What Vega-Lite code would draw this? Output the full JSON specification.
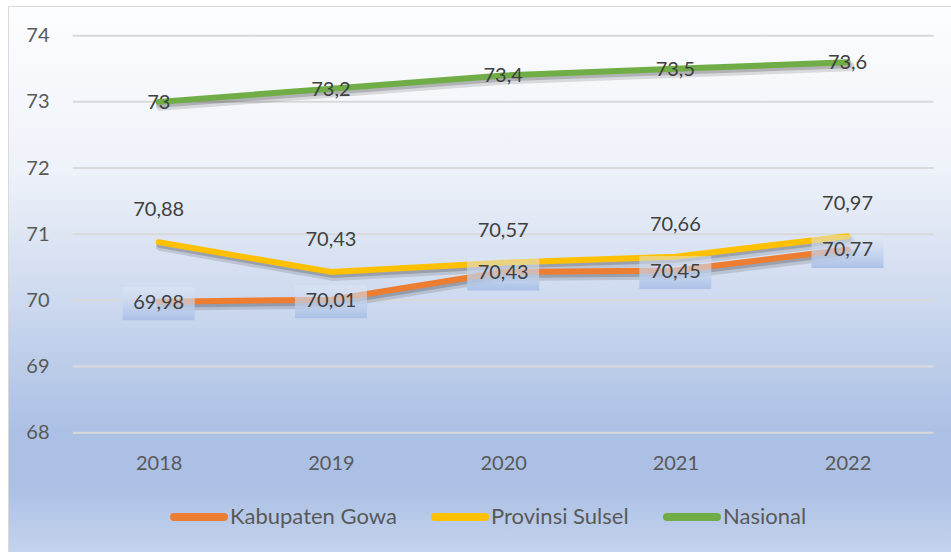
{
  "$schema": "https://vega.github.io/schema/vega-lite/v6.json",
  "width": 943,
  "height": 546,
  "autosize": {"type": "none"},
  "padding": {"left": 8, "top": 6, "right": 0, "bottom": 0},
  "background": "white",
  "view": {
    "fill": {
      "gradient": "linear", "x1": 0, "y1": 0, "x2": 0, "y2": 1,
      "stops": [
        {"offset": 0, "color": "#fcfdfe"},
        {"offset": 0.3, "color": "#eef2f9"},
        {"offset": 0.78, "color": "#abc0e4"},
        {"offset": 0.88, "color": "#abc0e4"},
        {"offset": 1, "color": "#c5d4ed"}
      ]
    },
    "stroke": "#d9d9d9",
    "strokeWidth": 1
  },
  "config": {
    "locale": {"number": {"decimal": ",", "thousands": ".", "grouping": [3], "currency": ["", ""]}},
    "axis": {"domain": false, "ticks": false, "grid": false, "labelFont": "Lato", "labelFontSize": 20, "labelColor": "#595959"},
    "axisX": {"offset": -89, "labelPadding": 0, "labelBaseline": "middle", "labelAngle": 0},
    "axisY": {"offset": -41, "labelPadding": 0},
    "legend": {
      "orient": "none", "legendX": 162, "legendY": 482, "direction": "horizontal",
      "symbolType": "stroke", "symbolSize": 2500, "symbolStrokeWidth": 8,
      "labelFont": "Lato", "labelFontSize": 22, "labelColor": "#595959", "labelLimit": 400,
      "columnPadding": 22, "labelOffset": 2, "padding": 0, "title": null
    }
  },
  "datasets": {
    "main": [
      {"year": "2018", "series": "Kabupaten Gowa", "value": 69.98},
      {"year": "2019", "series": "Kabupaten Gowa", "value": 70.01},
      {"year": "2020", "series": "Kabupaten Gowa", "value": 70.43},
      {"year": "2021", "series": "Kabupaten Gowa", "value": 70.45},
      {"year": "2022", "series": "Kabupaten Gowa", "value": 70.77},
      {"year": "2018", "series": "Provinsi Sulsel", "value": 70.88},
      {"year": "2019", "series": "Provinsi Sulsel", "value": 70.43},
      {"year": "2020", "series": "Provinsi Sulsel", "value": 70.57},
      {"year": "2021", "series": "Provinsi Sulsel", "value": 70.66},
      {"year": "2022", "series": "Provinsi Sulsel", "value": 70.97},
      {"year": "2018", "series": "Nasional", "value": 73},
      {"year": "2019", "series": "Nasional", "value": 73.2},
      {"year": "2020", "series": "Nasional", "value": 73.4},
      {"year": "2021", "series": "Nasional", "value": 73.5},
      {"year": "2022", "series": "Nasional", "value": 73.6}
    ],
    "grid": [{"v": 68}, {"v": 69}, {"v": 70}, {"v": 71}, {"v": 72}, {"v": 73}, {"v": 74}]
  },
  "layer": [
    {
      "data": {"name": "grid"},
      "mark": {"type": "rule", "stroke": "#d9d9d9", "strokeWidth": 2, "xOffset": -86, "x2Offset": 86},
      "encoding": {
        "x": {"datum": "2018", "type": "ordinal", "scale": {"type": "point", "domain": ["2018", "2019", "2020", "2021", "2022"], "padding": 0.738, "align": 0.593}, "axis": {"title": null}},
        "x2": {"datum": "2022"},
        "y": {"field": "v", "type": "quantitative", "scale": {"domain": [66.197, 74.4489], "nice": false, "zero": false}, "axis": {"title": null, "format": "d", "values": [68, 69, 70, 71, 72, 73, 74]}}
      }
    },
    {
      "data": {"name": "main"},
      "mark": {"type": "line", "color": "#000000", "opacity": 0.12, "strokeWidth": 10, "xOffset": 2, "yOffset": 4, "strokeCap": "round", "strokeJoin": "round"},
      "encoding": {
        "x": {"field": "year", "type": "ordinal"},
        "y": {"field": "value", "type": "quantitative"},
        "detail": {"field": "series"}
      }
    },
    {
      "data": {"name": "main"},
      "mark": {"type": "line", "color": "#000000", "opacity": 0.18, "strokeWidth": 6, "xOffset": 1, "yOffset": 3, "strokeCap": "round", "strokeJoin": "round"},
      "encoding": {
        "x": {"field": "year", "type": "ordinal"},
        "y": {"field": "value", "type": "quantitative"},
        "detail": {"field": "series"}
      }
    },
    {
      "data": {"name": "main"},
      "mark": {"type": "line", "strokeWidth": 6, "strokeCap": "round", "strokeJoin": "round"},
      "encoding": {
        "x": {"field": "year", "type": "ordinal"},
        "y": {"field": "value", "type": "quantitative"},
        "color": {
          "field": "series", "type": "nominal",
          "scale": {"domain": ["Kabupaten Gowa", "Provinsi Sulsel", "Nasional"], "range": ["#ED7D31", "#FFC000", "#70AD47"]},
          "legend": {"encode": {"symbols": {"update": {"strokeCap": {"value": "round"}}}}}
        }
      }
    },
    {
      "data": {"name": "main"},
      "transform": [{"filter": "datum.series === 'Kabupaten Gowa'"}],
      "mark": {
        "type": "point", "filled": true, "size": 5184, "yOffset": 2, "strokeWidth": 0, "opacity": 1,
        "shape": "M -1 -0.458 L 1 -0.458 L 1 0.458 L -1 0.458 Z",
        "fill": {
          "gradient": "linear", "x1": 0, "y1": 0, "x2": 0, "y2": 1,
          "stops": [
            {"offset": 0, "color": "rgba(225,233,246,0.45)"},
            {"offset": 1, "color": "rgba(168,191,230,0.95)"}
          ]
        }
      },
      "encoding": {
        "x": {"field": "year", "type": "ordinal"},
        "y": {"field": "value", "type": "quantitative"}
      }
    },
    {
      "data": {"name": "main"},
      "transform": [{"filter": "datum.series !== 'Provinsi Sulsel'"}],
      "mark": {"type": "text", "font": "Lato", "fontSize": 20, "fill": "#404040", "baseline": "middle", "align": "center", "dy": 1},
      "encoding": {
        "x": {"field": "year", "type": "ordinal"},
        "y": {"field": "value", "type": "quantitative"},
        "text": {"field": "value", "type": "quantitative", "format": "~g"}
      }
    },
    {
      "data": {"name": "main"},
      "transform": [{"filter": "datum.series === 'Provinsi Sulsel'"}],
      "mark": {"type": "text", "font": "Lato", "fontSize": 20, "fill": "#404040", "baseline": "middle", "align": "center", "dy": -32},
      "encoding": {
        "x": {"field": "year", "type": "ordinal"},
        "y": {"field": "value", "type": "quantitative"},
        "text": {"field": "value", "type": "quantitative", "format": "~g"}
      }
    }
  ]
}
